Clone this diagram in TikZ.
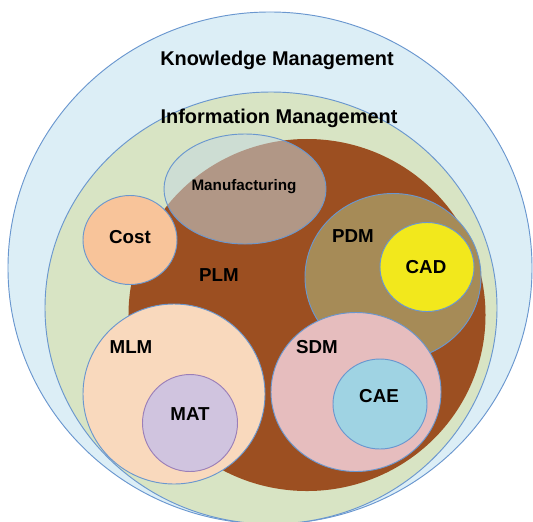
\documentclass[tikz,border=0pt]{standalone}
\usepackage{fontspec}
\setmainfont{Liberation Sans}
\usetikzlibrary{shapes.geometric}
\definecolor{Sky}{HTML}{DCEEF6}
\definecolor{Sage}{HTML}{D8E4C4}
\definecolor{Rust}{HTML}{9C4F21}
\definecolor{Mist}{HTML}{C4D7E1}
\definecolor{Peach}{HTML}{F8C49A}
\definecolor{Khaki}{HTML}{A68B57}
\definecolor{Lemon}{HTML}{F2E81C}
\definecolor{Apricot}{HTML}{F9D9BD}
\definecolor{Lilac}{HTML}{D0C4DF}
\definecolor{Blush}{HTML}{E6BDBE}
\definecolor{Aqua}{HTML}{9FD3E3}
\definecolor{Rim}{HTML}{6A97CF}
\definecolor{Plum}{HTML}{9B7FB8}

\begin{document}
\begin{tikzpicture}[
    x=0.03cm, y=-0.03cm,
    blob/.style={ellipse, draw=Rim, line width=0.8pt, inner sep=0pt},
    title/.style={font=\fontsize{17}{20}\selectfont\bfseries, text=black},
    lbl/.style={font=\fontsize{16}{19}\selectfont\bfseries, text=black}
]
\useasboundingbox (0,0) rectangle (533,521);

% nested areas
\node[blob, fill=Sky, minimum width=15.72cm, minimum height=15.36cm] (know) at (270,268) {};
\node[blob, fill=Sage, minimum width=13.56cm, minimum height=12.96cm] (info) at (271,308) {};
\node[ellipse, fill=Rust, inner sep=0pt, minimum width=10.71cm, minimum height=10.56cm] (plm) at (307,315) {};
\node[blob, fill=Mist, fill opacity=0.53, minimum width=4.86cm, minimum height=3.3cm] (manuf) at (245,189) {};
\node[blob, fill=Peach, minimum width=2.82cm, minimum height=2.67cm] (cost) at (130,240) {};
\node[blob, fill=Khaki, minimum width=5.28cm, minimum height=5.01cm] (pdm) at (393,277) {};
\node[blob, fill=Lemon, minimum width=2.82cm, minimum height=2.67cm] (cad) at (427,267) {};
\node[blob, fill=Apricot, minimum width=5.46cm, minimum height=5.4cm] (mlm) at (174,394) {};
\node[blob, draw=Plum, fill=Lilac, minimum width=2.85cm, minimum height=2.91cm] (mat) at (190,423) {};
\node[blob, fill=Blush, minimum width=5.1cm, minimum height=4.77cm] (sdm) at (356,392) {};
\node[blob, fill=Aqua, minimum width=2.82cm, minimum height=2.7cm] (cae) at (380,404) {};

% labels
\node[title] (knowlbl) at (277,60) {Knowledge Management};
\node[title] (infolbl) at (279,118) {Information Management};
\node[font=\fontsize{13}{15}\selectfont\bfseries, text=black] (manuflbl) at (244,187) {Manufacturing};
\node[lbl] (costlbl) at (130,237) {Cost};
\node[lbl] (plmlbl) at (219,275) {PLM};
\node[lbl] (pdmlbl) at (353,236) {PDM};
\node[lbl] (cadlbl) at (426,267) {CAD};
\node[lbl] (mlmlbl) at (131,347) {MLM};
\node[lbl] (matlbl) at (190,414) {MAT};
\node[lbl] (sdmlbl) at (317,347) {SDM};
\node[lbl] (caelbl) at (379,396) {CAE};

\end{tikzpicture}
\end{document}
